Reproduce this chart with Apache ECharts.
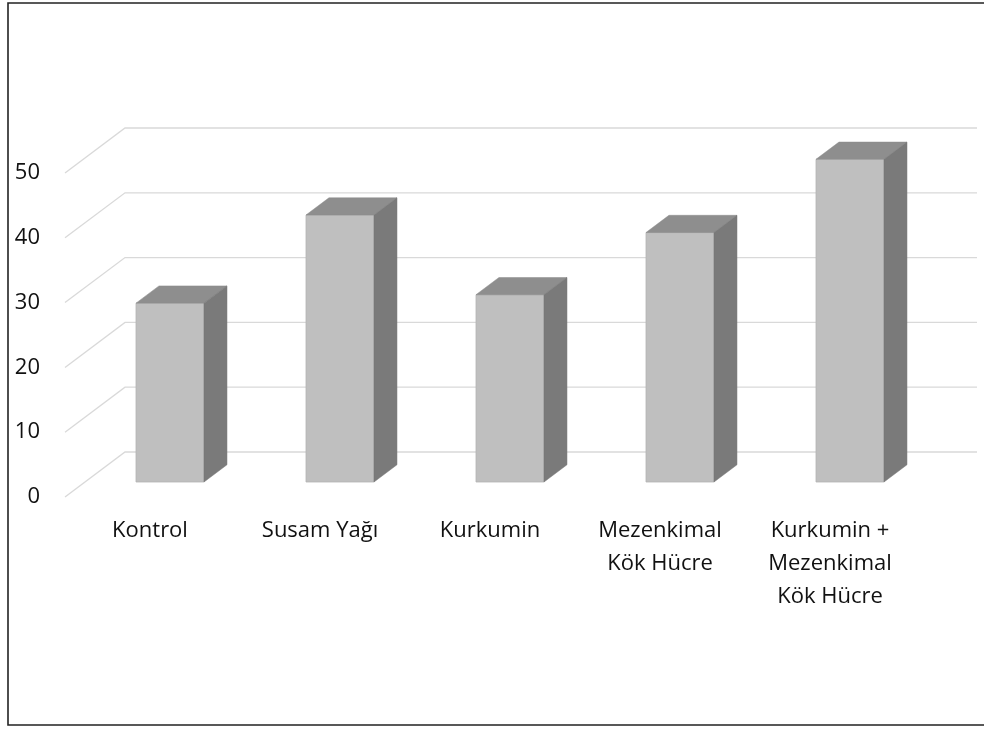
<!DOCTYPE html>
<html>
<head>
<meta charset="utf-8">
<script src="https://cdn.jsdelivr.net/npm/echarts@6/dist/echarts.min.js"></script>
<style>
    html, body { margin: 0; padding: 0; background: #fff; }
    #chart { width: 984px; height: 729px; }
</style>
</head>
<body>
<div id="chart"></div>
<script>
var categories = ['Kontrol', 'Susam Yağı', 'Kurkumin', 'Mezenkimal\nKök Hücre', 'Kurkumin +\nMezenkimal\nKök Hücre'];
var values = [27.6, 41.2, 28.9, 38.5, 49.8];
var ticks = [0, 10, 20, 30, 40, 50];

// oblique depth of the floor (front edge -> back wall), pixels
var DEPTH_X = 60, DEPTH_Y = -45;

var chart = echarts.init(document.getElementById('chart'));

function renderGrid(params, api) {
    var cs = params.coordSys;
    var y = api.coord([0, api.value(0)])[1];
    var x0 = cs.x;
    return {
        type: 'polyline',
        shape: {
            points: [
                [x0, y],
                [x0 + DEPTH_X, y + DEPTH_Y],
                [x0 + cs.width + DEPTH_X + 2, y + DEPTH_Y]
            ]
        },
        style: { stroke: '#d9d9d9', lineWidth: 1.3, fill: null },
        silent: true
    };
}

function renderBar(params, api) {
    var i = api.value(0), v = api.value(1);
    var band = api.size([1, 0])[0];
    var w = band * 0.4;
    var base = api.coord([i, 0]);
    var top = api.coord([i, v]);
    // bars stand one third into the floor depth
    var sx = DEPTH_X / 3, sy = DEPTH_Y / 3;
    var bx = DEPTH_X * 0.383, by = DEPTH_Y * 0.383;
    var xl = base[0] - w / 2 + sx, xr = xl + w;
    var yb = base[1] + sy, yt = top[1] + sy;
    return {
        type: 'group',
        children: [
            {
                type: 'rect',
                shape: { x: xl, y: yt, width: w, height: yb - yt },
                style: { fill: '#bfbfbf', stroke: '#b4b4b4', lineWidth: 0.8 }
            },
            {
                type: 'polygon',
                shape: { points: [[xl, yt], [xr, yt], [xr + bx, yt + by], [xl + bx, yt + by]] },
                style: { fill: '#8e8e8e', stroke: '#8a8a8a', lineWidth: 0.5 }
            },
            {
                type: 'polygon',
                shape: { points: [[xr, yt], [xr + bx, yt + by], [xr + bx, yb + by], [xr, yb]] },
                style: { fill: '#7a7a7a', stroke: '#777', lineWidth: 0.5 }
            }
        ]
    };
}

var option = {
    backgroundColor: '#fff',
    animation: false,
    textStyle: { fontFamily: 'Open Sans' },
    graphic: [{
        type: 'rect',
        shape: { x: 8, y: 3, width: 1000, height: 722 },
        style: { fill: null, stroke: '#222', lineWidth: 1.6 },
        z: 100
    }],
    grid: { left: 65, right: 69, top: 173, bottom: 232 },
    xAxis: {
        type: 'category',
        data: categories,
        axisLine: { show: false },
        axisTick: { show: false },
        axisLabel: {
            margin: 17,
            fontSize: 22,
            lineHeight: 33,
            color: '#111',
            interval: 0,
            verticalAlign: 'top'
        }
    },
    yAxis: {
        type: 'value',
        min: 0,
        max: 50,
        interval: 10,
        axisLine: { show: false },
        axisTick: { show: false },
        splitLine: { show: false },
        axisLabel: {
            margin: 25,
            fontSize: 22,
            color: '#111',
            padding: [0, 0, 6, 0]
        }
    },
    series: [
        {
            type: 'custom',
            renderItem: renderGrid,
            data: ticks.map(function (t) { return [t]; }),
            encode: { y: 0 },
            z: 1,
            silent: true
        },
        {
            type: 'custom',
            renderItem: renderBar,
            data: values.map(function (v, i) { return [i, v]; }),
            encode: { x: 0, y: 1 },
            z: 2
        }
    ]
};

chart.setOption(option);
</script>
</body>
</html>
